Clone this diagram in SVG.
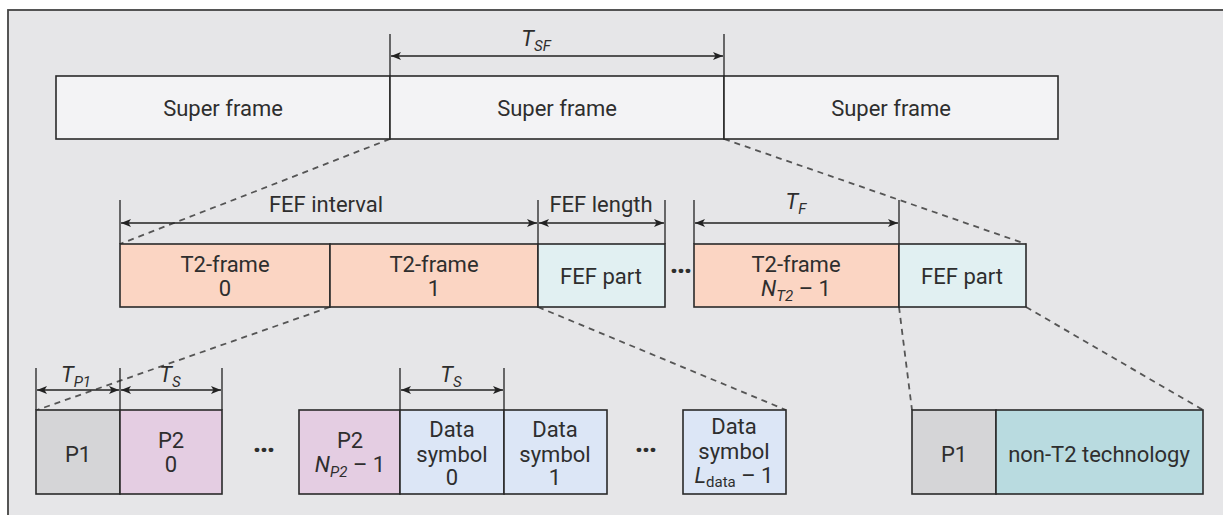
<svg xmlns="http://www.w3.org/2000/svg" width="1223" height="515" viewBox="0 0 1223 515">
  <defs>
    <marker id="ah" viewBox="0 0 10 8" refX="10" refY="4" markerWidth="11" markerHeight="8" markerUnits="userSpaceOnUse" orient="auto-start-reverse">
      <path d="M0,0 L10,4 L0,8 L2.5,4 Z" fill="#222"/>
    </marker>
    <style>
      .box { stroke: #2a2a2a; stroke-width: 1.6; }
      .sf { fill: #f3f3f5; }
      .t2 { fill: #fbd5c3; }
      .fef { fill: #e1f0f2; }
      .p1 { fill: #d5d5d7; }
      .p2 { fill: #e4cde2; }
      .ds { fill: #dce6f6; }
      .nt { fill: #b9dbe0; }
      .tick { stroke: #222; stroke-width: 1.3; fill: none; }
      .dim { stroke: #222; stroke-width: 1.3; fill: none; marker-start: url(#ah); marker-end: url(#ah); }
      .dash { stroke: #555; stroke-width: 1.8; stroke-dasharray: 6 5; fill: none; }
      text { font-family: "Liberation Sans Narrow", Roboto, "Liberation Sans", sans-serif; font-size: 22px; fill: #2e2e2e; text-anchor: middle; }
      .it { font-style: italic; }
      .sub { font-size: 15px; }
      .dots { font-size: 30px; font-weight: bold; letter-spacing: -2px; }
    </style>
  </defs>

  <!-- panel -->
  <rect x="8" y="10" width="1230" height="520" fill="#e6e6e8" stroke="#444" stroke-width="1.8"/>

  <!-- connectors: zoom lines, dimension arrows and ticks -->
  <g id="connectors">
    <line class="dash" x1="390" y1="139" x2="120" y2="244"/>
    <line class="dash" x1="724" y1="139" x2="1026" y2="244"/>
    <line class="dash" x1="330" y1="307" x2="37" y2="410"/>
    <line class="dash" x1="538" y1="307" x2="786" y2="410"/>
    <line class="dash" x1="899" y1="307" x2="912" y2="410"/>
    <line class="dash" x1="1026" y1="307" x2="1203" y2="410"/>

    <!-- T_SF -->
    <line class="tick" x1="390" y1="34" x2="390" y2="139"/>
    <line class="tick" x1="724" y1="34" x2="724" y2="139"/>
    <line class="dim" x1="391" y1="56" x2="723" y2="56"/>

    <!-- FEF interval / FEF length / T_F -->
    <line class="tick" x1="120" y1="200" x2="120" y2="244"/>
    <line class="tick" x1="538" y1="200" x2="538" y2="244"/>
    <line class="tick" x1="665" y1="200" x2="665" y2="244"/>
    <line class="tick" x1="694" y1="200" x2="694" y2="244"/>
    <line class="tick" x1="899" y1="200" x2="899" y2="244"/>
    <line class="dim" x1="121" y1="223" x2="537" y2="223"/>
    <line class="dim" x1="539" y1="223" x2="664" y2="223"/>
    <line class="dim" x1="695" y1="223" x2="898" y2="223"/>

    <!-- T_P1 / T_S -->
    <line class="tick" x1="36" y1="368" x2="36" y2="410"/>
    <line class="tick" x1="120" y1="368" x2="120" y2="410"/>
    <line class="tick" x1="222" y1="368" x2="222" y2="410"/>
    <line class="tick" x1="400" y1="368" x2="400" y2="410"/>
    <line class="tick" x1="504" y1="368" x2="504" y2="410"/>
    <line class="dim" x1="37" y1="390" x2="119" y2="390"/>
    <line class="dim" x1="121" y1="390" x2="221" y2="390"/>
    <line class="dim" x1="401" y1="390" x2="503" y2="390"/>
  </g>

  <!-- dimension labels -->
  <g id="labels">
    <text x="536" y="46" class="it">T<tspan class="sub" dy="5">SF</tspan></text>
    <text x="326" y="212">FEF interval</text>
    <text x="601" y="212">FEF length</text>
    <text x="796" y="209" class="it">T<tspan class="sub" dy="5">F</tspan></text>
    <text x="76" y="382" class="it">T<tspan class="sub" dy="5">P1</tspan></text>
    <text x="170" y="382" class="it">T<tspan class="sub" dy="5">S</tspan></text>
    <text x="451" y="382" class="it">T<tspan class="sub" dy="5">S</tspan></text>
  </g>

  <!-- super frames -->
  <g id="superframe-1">
    <rect class="box sf" x="56" y="76" width="334" height="63"/>
    <text x="223" y="116">Super frame</text>
  </g>
  <g id="superframe-2">
    <rect class="box sf" x="390" y="76" width="334" height="63"/>
    <text x="557" y="116">Super frame</text>
  </g>
  <g id="superframe-3">
    <rect class="box sf" x="724" y="76" width="334" height="63"/>
    <text x="891" y="116">Super frame</text>
  </g>

  <!-- frames -->
  <g id="t2-frame-0">
    <rect class="box t2" x="120" y="244" width="210" height="63"/>
    <text x="225" y="272">T2-frame</text>
    <text x="225" y="296">0</text>
  </g>
  <g id="t2-frame-1">
    <rect class="box t2" x="330" y="244" width="208" height="63"/>
    <text x="434" y="272">T2-frame</text>
    <text x="434" y="296">1</text>
  </g>
  <g id="fef-part-1">
    <rect class="box fef" x="538" y="244" width="127" height="63"/>
    <text x="601" y="284">FEF part</text>
  </g>
  <g id="frame-dots">
    <text class="dots" x="680" y="281">···</text>
  </g>
  <g id="t2-frame-last">
    <rect class="box t2" x="694" y="244" width="205" height="63"/>
    <text x="796" y="272">T2-frame</text>
    <text x="796" y="296"><tspan class="it">N</tspan><tspan class="sub it" dy="5">T2</tspan><tspan dy="-5"> – 1</tspan></text>
  </g>
  <g id="fef-part-2">
    <rect class="box fef" x="899" y="244" width="127" height="63"/>
    <text x="962" y="284">FEF part</text>
  </g>

  <!-- T2-frame contents -->
  <g id="p1">
    <rect class="box p1" x="36" y="410" width="84" height="84"/>
    <text x="78" y="462">P1</text>
  </g>
  <g id="p2-0">
    <rect class="box p2" x="120" y="410" width="102" height="84"/>
    <text x="171" y="448">P2</text>
    <text x="171" y="472">0</text>
  </g>
  <g id="p2-dots">
    <text class="dots" x="263" y="460">···</text>
  </g>
  <g id="p2-last">
    <rect class="box p2" x="299" y="410" width="101" height="84"/>
    <text x="350" y="448">P2</text>
    <text x="350" y="472"><tspan class="it">N</tspan><tspan class="sub it" dy="5">P2</tspan><tspan dy="-5"> – 1</tspan></text>
  </g>
  <g id="data-symbol-0">
    <rect class="box ds" x="400" y="410" width="104" height="84"/>
    <text x="452" y="437">Data</text>
    <text x="452" y="462">symbol</text>
    <text x="452" y="485">0</text>
  </g>
  <g id="data-symbol-1">
    <rect class="box ds" x="504" y="410" width="103" height="84"/>
    <text x="555" y="437">Data</text>
    <text x="555" y="462">symbol</text>
    <text x="555" y="485">1</text>
  </g>
  <g id="data-dots">
    <text class="dots" x="645" y="460">···</text>
  </g>
  <g id="data-symbol-last">
    <rect class="box ds" x="683" y="410" width="103" height="84"/>
    <text x="734" y="434">Data</text>
    <text x="734" y="459">symbol</text>
    <text x="734" y="483"><tspan class="it">L</tspan><tspan class="sub" dy="4">data</tspan><tspan dy="-4"> – 1</tspan></text>
  </g>

  <!-- FEF part contents -->
  <g id="fef-p1">
    <rect class="box p1" x="912" y="410" width="84" height="84"/>
    <text x="954" y="462">P1</text>
  </g>
  <g id="non-t2">
    <rect class="box nt" x="996" y="410" width="207" height="84"/>
    <text x="1099" y="462">non-T2 technology</text>
  </g>
</svg>
